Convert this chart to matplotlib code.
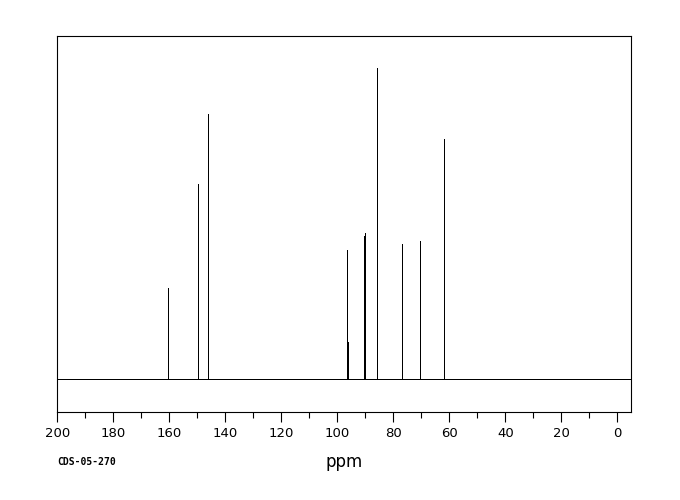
"""
13C NMR spectrum, CDS-05-270
"""

import matplotlib
matplotlib.use("Agg")
import matplotlib.pyplot as plt
import numpy as np

# peak positions (ppm) and heights (arbitrary units, baseline = 0)
peak_ppm = [160.5, 149.75, 146.2, 146.05, 96.5, 96.35, 90.3, 90.0, 85.8, 76.9, 76.95, 70.5, 61.9]
peak_height = [91, 195, 265, 25, 129, 37, 143, 146, 311, 135, 13, 138, 240]

major_ticks = np.arange(0, 201, 20)
minor_ticks = np.arange(0, 201, 10)

fig = plt.figure(figsize=(6.8, 5.0), dpi=100)
ax = fig.add_axes([57.3 / 680, (500 - 412) / 500, (631 - 57.3) / 680, (412 - 36) / 500])

# baseline + peaks (1 px lines)
ax.plot([200, -5], [0, 0], color="black", lw=0.72, antialiased=False)
ax.vlines(peak_ppm, 0, peak_height, color="black", lw=0.72, antialiased=False)

ax.set_xlim(200, -4.9)
ax.set_ylim(-(412 - 378.7), 378.7 - 36)

ax.set_xticks(major_ticks)
ax.set_xticks(minor_ticks, minor=True)
ax.set_yticks([])
ax.tick_params(axis="x", which="major", length=7, width=0.8, direction="out",
               labelsize=9.5, pad=4)
ax.tick_params(axis="x", which="minor", length=4, width=0.8, direction="out")
for s in ax.spines.values():
    s.set_linewidth(0.8)

ax.set_xlabel("ppm", fontsize=12, labelpad=9)
fig.text(57 / 680, 1 - 462 / 500, "CDS-05-270", fontsize=7, family="DejaVu Sans Mono",
         weight="bold", va="center", ha="left")

fig.savefig("out.png", dpi=100, facecolor="white")
